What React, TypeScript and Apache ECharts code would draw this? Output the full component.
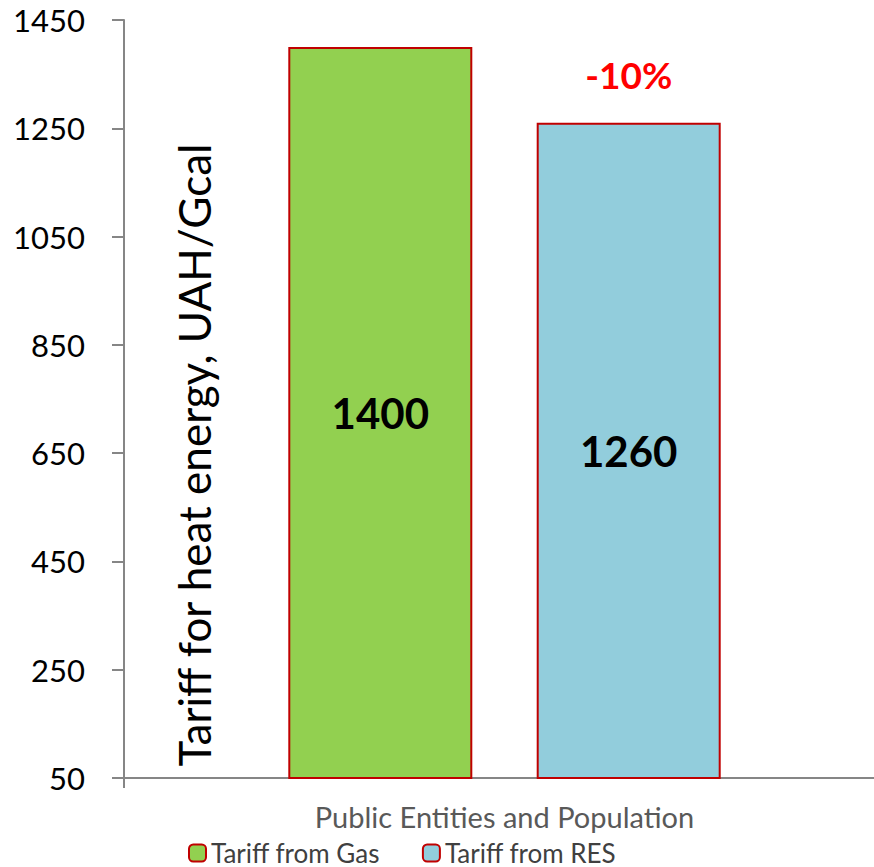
import React, { useEffect, useRef } from "react";
import * as echarts from "echarts";

const categories = ["Public Entities and Population"];
const seriesNames = ["Tariff from Gas", "Tariff from RES"];
const gasValues = [1400];
const resValues = [1260];
const changeLabel = "-10%";
const yAxisName = "Tariff for heat energy, UAH/Gcal";
const yMin = 50;
const yMax = 1450;
const yStep = 200;

const FONT = "Lato, 'Noto Sans', sans-serif";

export default function App() {
  const ref = useRef<HTMLDivElement>(null);
  useEffect(() => {
    document.body.style.margin = "0";
    const chart = echarts.init(ref.current!, null, { renderer: "svg" });
    const barBorder = { borderColor: "#C00000", borderWidth: 2 };
    const insideLabel = {
      show: true,
      position: "inside",
      fontSize: 42,
      fontWeight: "bold",
      color: "#000",
      fontFamily: FONT,
    };
    chart.setOption({
      animation: false,
      grid: {
        left: 124,
        width: 761,
        top: 20,
        height: 758,
        containLabel: false,
        outerBoundsMode: "none",
      },
      legend: {
        left: 188,
        top: 840,
        padding: 0,
        itemWidth: 17,
        itemHeight: 17,
        itemGap: 42,
        textStyle: { fontSize: 26, color: "#404040", fontFamily: FONT },
        data: seriesNames,
      },
      graphic: [
        {
          type: "text",
          x: 172,
          y: 455,
          rotation: Math.PI / 2,
          style: {
            text: yAxisName,
            fontSize: 44,
            fontFamily: FONT,
            fill: "#000",
            align: "center",
            verticalAlign: "top",
          },
        },
      ],
      xAxis: {
        type: "category",
        data: categories,
        axisLine: { lineStyle: { color: "#868686", width: 2 } },
        axisTick: { show: true, length: 10, lineStyle: { color: "#868686", width: 2 } },
        axisLabel: { margin: 24, fontSize: 29, color: "#595959", fontFamily: FONT },
      },
      yAxis: {
        type: "value",
        min: yMin,
        max: yMax,
        interval: yStep,
        splitLine: { show: false },
        axisLine: { show: true, lineStyle: { color: "#868686", width: 2 } },
        axisTick: { show: true, length: 12, lineStyle: { color: "#868686", width: 2 } },
        axisLabel: {
          margin: 39,
          fontSize: 31,
          color: "#000",
          fontFamily: FONT,
          formatter: (v: number) => String(v),
        },
      },
      series: [
        {
          name: seriesNames[0],
          type: "bar",
          data: gasValues,
          barWidth: 184,
          barGap: "35%",
          itemStyle: { color: "#92D050", ...barBorder },
          label: insideLabel,
        },
        {
          name: seriesNames[1],
          type: "bar",
          data: resValues,
          barWidth: 184,
          barGap: "35%",
          itemStyle: { color: "#92CDDC", ...barBorder },
          label: insideLabel,
          markPoint: {
            symbol: "circle",
            symbolSize: 0,
            data: [{ type: "max" }],
            label: {
              show: true,
              formatter: changeLabel,
              position: "inside",
              offset: [0, -48],
              fontSize: 37,
              fontWeight: "bold",
              color: "#FF0000",
              fontFamily: FONT,
            },
          },
        },
      ],
    });
    return () => chart.dispose();
  }, []);
  return <div ref={ref} style={{ width: 874, height: 867 }} />;
}
